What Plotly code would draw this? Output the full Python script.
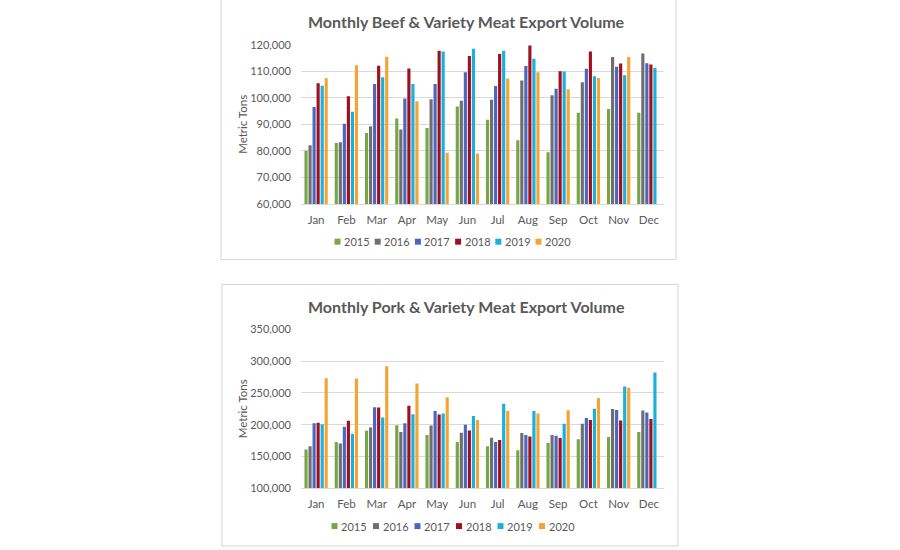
import plotly.graph_objects as go

months = ["Jan", "Feb", "Mar", "Apr", "May", "Jun", "Jul", "Aug", "Sep", "Oct", "Nov", "Dec"]
years = ["2015", "2016", "2017", "2018", "2019", "2020"]
colors = ["#76A646", "#6F6F6F", "#4A67C0", "#A00F1E", "#1BAFDD", "#F3A533"]

beef_2015 = [80000, 83000, 86750, 92250, 88600, 96750, 91750, 84000, 79500, 94400, 95750, 94400]
beef_2016 = [82100, 83250, 89250, 88100, 99500, 98900, 99250, 106500, 101000, 105900, 115400, 116750]
beef_2017 = [96500, 90250, 105250, 99750, 105250, 109600, 104500, 112000, 103400, 111000, 111750, 113000]
beef_2018 = [105500, 100600, 112100, 111100, 117750, 115750, 116500, 119750, 110000, 117500, 112900, 112600]
beef_2019 = [104600, 94750, 107750, 105250, 117500, 118500, 117750, 114750, 109900, 108100, 108500, 111250]
beef_2020 = [107400, 112250, 115500, 98750, 79250, 79000, 107250, 109600, 103250, 107500, 115400, None]

pork_2015 = [160800, 172700, 190400, 199200, 183600, 172700, 166000, 159700, 171200, 176900, 180500, 188300]
pork_2016 = [166000, 170600, 195600, 188300, 198700, 187300, 179500, 186800, 183600, 201300, 224700, 222100]
pork_2017 = [202300, 196600, 227300, 202300, 221600, 199700, 172700, 183600, 182600, 210600, 223100, 219000]
pork_2018 = [202900, 206000, 226800, 229900, 215800, 190900, 175800, 181600, 179000, 207500, 206500, 209100]
pork_2019 = [200800, 185700, 211200, 216400, 217400, 213800, 233000, 221600, 201300, 225200, 260000, 281800]
pork_2020 = [273000, 272500, 291700, 264700, 242900, 207500, 221600, 217400, 222600, 241800, 257900, None]

beef_series = [beef_2015, beef_2016, beef_2017, beef_2018, beef_2019, beef_2020]
pork_series = [pork_2015, pork_2016, pork_2017, pork_2018, pork_2019, pork_2020]

W, H = 900, 550
FONT = "Lato, Open Sans, sans-serif"
TXT = "#595959"
GRID = "#D9D9D9"

fig = go.Figure()
for yr, col, vals in zip(years, colors, beef_series):
    fig.add_trace(go.Bar(x=months, y=vals, name=yr, marker_color=col,
                         marker_line_width=0, xaxis="x", yaxis="y",
                         showlegend=False, offsetgroup=yr))
for yr, col, vals in zip(years, colors, pork_series):
    fig.add_trace(go.Bar(x=months, y=vals, name=yr, marker_color=col,
                         marker_line_width=0, xaxis="x2", yaxis="y2",
                         showlegend=False, offsetgroup=yr))

# screen pixel -> paper fraction (the page renders the paper 540px tall from y=5)
TOP, SPAN = 5.0, 540.0

def px(v):
    return v / W

def py(v):
    return 1 - (v - TOP) / SPAN

xdom = [px(301), px(664)]
axis_common = dict(showgrid=False, showline=True, linecolor=GRID, linewidth=1,
                   ticks="", ticklabelstandoff=5,
                   tickfont=dict(family=FONT, size=11.5, color=TXT))
yaxis_common = dict(showgrid=True, gridcolor=GRID, gridwidth=1, zeroline=False,
                    showline=False, ticks="", tickformat=",",
                    tickfont=dict(family=FONT, size=11, color=TXT),
                    ticklabelstandoff=9,
                    title_font=dict(family=FONT, size=11.5, color=TXT),
                    title_standoff=0)

shapes = [
    dict(type="rect", xref="paper", yref="paper", x0=px(221), x1=px(676),
         y0=py(259), y1=1.02, line=dict(color="#D4D4D4", width=1), layer="below"),
    dict(type="rect", xref="paper", yref="paper", x0=px(222), x1=px(678),
         y0=py(547), y1=py(284), line=dict(color="#D4D4D4", width=1), layer="below"),
]
annotations = [
    dict(text="<b>Monthly Beef & Variety Meat Export Volume</b>", xref="paper", yref="paper",
         x=px(466), y=py(20), showarrow=False, xanchor="center", yanchor="middle",
         font=dict(family=FONT, size=16, color=TXT)),
    dict(text="<b>Monthly Pork & Variety Meat Export Volume</b>", xref="paper", yref="paper",
         x=px(467), y=py(306), showarrow=False, xanchor="center", yanchor="middle",
         font=dict(family=FONT, size=16, color=TXT)),
]

for legend_y, x_start, step in [(241, 337.5, 40.2), (527, 334.5, 41.5)]:
    for i, (yr, col) in enumerate(zip(years, colors)):
        cx = x_start + i * step
        shapes.append(dict(type="rect", xref="paper", yref="paper",
                           x0=px(cx - 3), x1=px(cx + 3), y0=py(legend_y + 3), y1=py(legend_y - 3),
                           fillcolor=col, line=dict(width=0)))
        annotations.append(dict(text=yr, xref="paper", yref="paper", x=px(cx + 4.5), y=py(legend_y),
                                showarrow=False, xanchor="left", yanchor="middle",
                                font=dict(family=FONT, size=11, color=TXT)))

fig.update_layout(
    width=W, height=H, margin=dict(l=0, r=0, t=0, b=0),
    paper_bgcolor="white", plot_bgcolor="white",
    barmode="group", bargap=0.2, bargroupgap=0.22,
    showlegend=False,
    xaxis=dict(domain=xdom, anchor="y", **axis_common),
    yaxis=dict(domain=[py(203), py(43)], anchor="x", range=[60000, 120000], dtick=10000,
               title_text="Metric Tons", **yaxis_common),
    xaxis2=dict(domain=xdom, anchor="y2", **axis_common),
    yaxis2=dict(domain=[py(489), py(329)], anchor="x2", range=[100000, 350000], dtick=50000,
                title_text="Metric Tons", **yaxis_common),
    shapes=shapes, annotations=annotations,
)

fig.write_html("out.html")
